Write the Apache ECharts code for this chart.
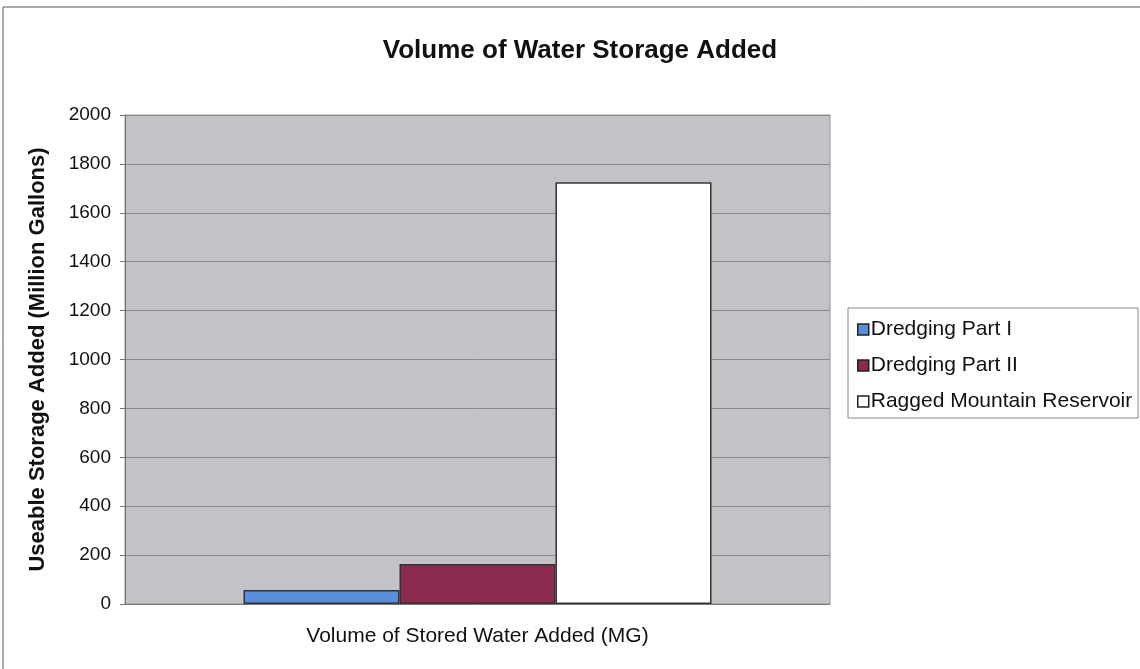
<!DOCTYPE html>
<html><head><meta charset="utf-8">
<script src="https://cdn.jsdelivr.net/npm/echarts@6/dist/echarts.min.js"></script>
<style>html,body{margin:0;padding:0;background:#fff}#c{width:1140px;height:669px}</style>
</head><body><div id="c"></div>
<script>
const categories = ['Volume of Stored Water Added (MG)'];
const seriesNames = ['Dredging Part I', 'Dredging Part II', 'Ragged Mountain Reservoir'];
const seriesValues = [[57], [164], [1725]];
const colors = ['#5b8ed9', '#8c2b50', '#ffffff'];
const yTicks = { min: 0, max: 2000, interval: 200 };

const FONT = 'Liberation Sans, Arial, sans-serif';
const chart = echarts.init(document.getElementById('c'));
chart.setOption({
  animation: false,
  backgroundColor: '#fff',
  graphic: [
    { type: 'rect', shape: { x: 3, y: 7, width: 1140, height: 700 }, style: { fill: 'none', stroke: '#555', lineWidth: 1 }, z: -1 },
    { type: 'rect', shape: { x: 848, y: 308, width: 290, height: 110 }, style: { fill: '#fff', stroke: '#888', lineWidth: 1 }, z: 0 }
  ],
  title: {
    text: 'Volume of Water Storage Added',
    left: 575, top: 33, textAlign: 'center',
    textStyle: { fontFamily: FONT, fontSize: 26, fontWeight: 'bold', color: '#111' }
  },
  legend: {
    orient: 'vertical', left: 852, top: 314, itemGap: 15, itemWidth: 11, itemHeight: 11,
    icon: 'rect',
    textStyle: { fontFamily: FONT, fontSize: 21, color: '#111', padding: [0, 0, 0, -3] },
    data: seriesNames.map((n, i) => ({ name: n, itemStyle: { color: colors[i], borderColor: '#222', borderWidth: 1.5 } }))
  },
  grid: { left: 125, right: 310, top: 115, bottom: 65, backgroundColor: '#c3c3c7', show: true, borderWidth: 1, borderColor: '#999' },
  xAxis: {
    type: 'category', data: categories,
    axisLine: { lineStyle: { color: '#777' } },
    axisTick: { show: false },
    axisLabel: { margin: 22, fontFamily: FONT, fontSize: 21, color: '#111' }
  },
  yAxis: {
    type: 'value', min: yTicks.min, max: yTicks.max, interval: yTicks.interval,
    name: 'Useable Storage Added (Million Gallons)', nameLocation: 'middle', nameGap: 76,
    nameTextStyle: { fontFamily: FONT, fontSize: 22, fontWeight: 'bold', color: '#111' },
    axisLine: { show: true, lineStyle: { color: '#777' } },
    axisTick: { show: true, length: 5, lineStyle: { color: '#777' } },
    axisLabel: { margin: 14, fontFamily: FONT, fontSize: 19, color: '#111', formatter: v => String(v) },
    splitLine: { lineStyle: { color: '#8a8a8a' } }
  },
  series: seriesNames.map((n, i) => ({
    name: n, type: 'bar', data: seriesValues[i],
    barWidth: 156, barGap: '0%',
    itemStyle: { color: colors[i], borderColor: '#333', borderWidth: 1.5 }
  }))
});
</script></body></html>
